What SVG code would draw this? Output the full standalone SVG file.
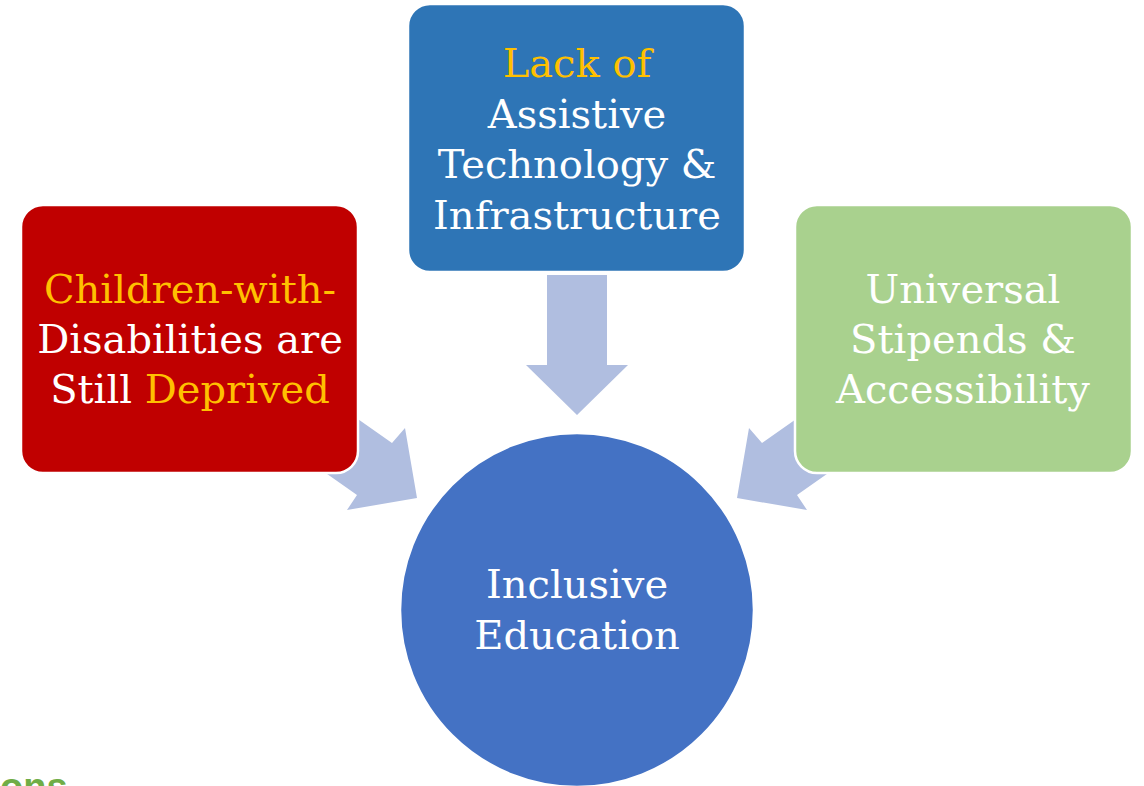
<svg xmlns="http://www.w3.org/2000/svg" width="1144" height="786" viewBox="0 0 1144 786">
<style>
.box{stroke:#ffffff;stroke-width:2.5}
.arrow{fill:#B0BEE0}
.lbl{font-family:"DejaVu Serif","Liberation Serif",serif;font-size:40px;fill:#ffffff;text-anchor:middle}
.hl{fill:#FFC000}
</style>
<rect width="1144" height="786" fill="#ffffff"/>
<g id="connectors">
<polygon class="arrow" points="547,275 607,275 607,365 628,365 577,415 526,365 547,365"/>
<polygon class="arrow" points="318,391 392,443 405,428 417,498 347,510 357,495 283,443"/>
<polygon class="arrow" points="836,391 762,443 749,428 737,498 807,510 797,495 871,443"/>
</g>
<g id="node-left">
<rect class="box" x="21" y="205" width="337" height="268" rx="22" fill="#C00000"/>
<text class="lbl" x="190" y="303"><tspan class="hl">Children-with-</tspan></text>
<text class="lbl" x="190" y="353">Disabilities are</text>
<text class="lbl" x="190" y="403">Still <tspan class="hl">Deprived</tspan></text>
</g>
<g id="node-top">
<rect class="box" x="408" y="4" width="337" height="268" rx="22" fill="#2E75B6"/>
<text class="lbl" x="577" y="77"><tspan class="hl">Lack of</tspan></text>
<text class="lbl" x="577" y="128">Assistive</text>
<text class="lbl" x="577" y="178">Technology &amp;</text>
<text class="lbl" x="577" y="229">Infrastructure</text>
</g>
<g id="node-right">
<rect class="box" x="795" y="205" width="337" height="268" rx="22" fill="#A9D18E"/>
<text class="lbl" x="963" y="303">Universal</text>
<text class="lbl" x="963" y="353">Stipends &amp;</text>
<text class="lbl" x="963" y="403">Accessibility</text>
</g>
<g id="node-center">
<circle class="box" cx="577" cy="610" r="177" fill="#4472C4"/>
<text class="lbl" x="577" y="598">Inclusive</text>
<text class="lbl" x="577" y="649">Education</text>
</g>
<text x="0" y="800" font-family="Liberation Sans, sans-serif" font-weight="bold" font-size="38" fill="#70AD47">ons</text>
</svg>
